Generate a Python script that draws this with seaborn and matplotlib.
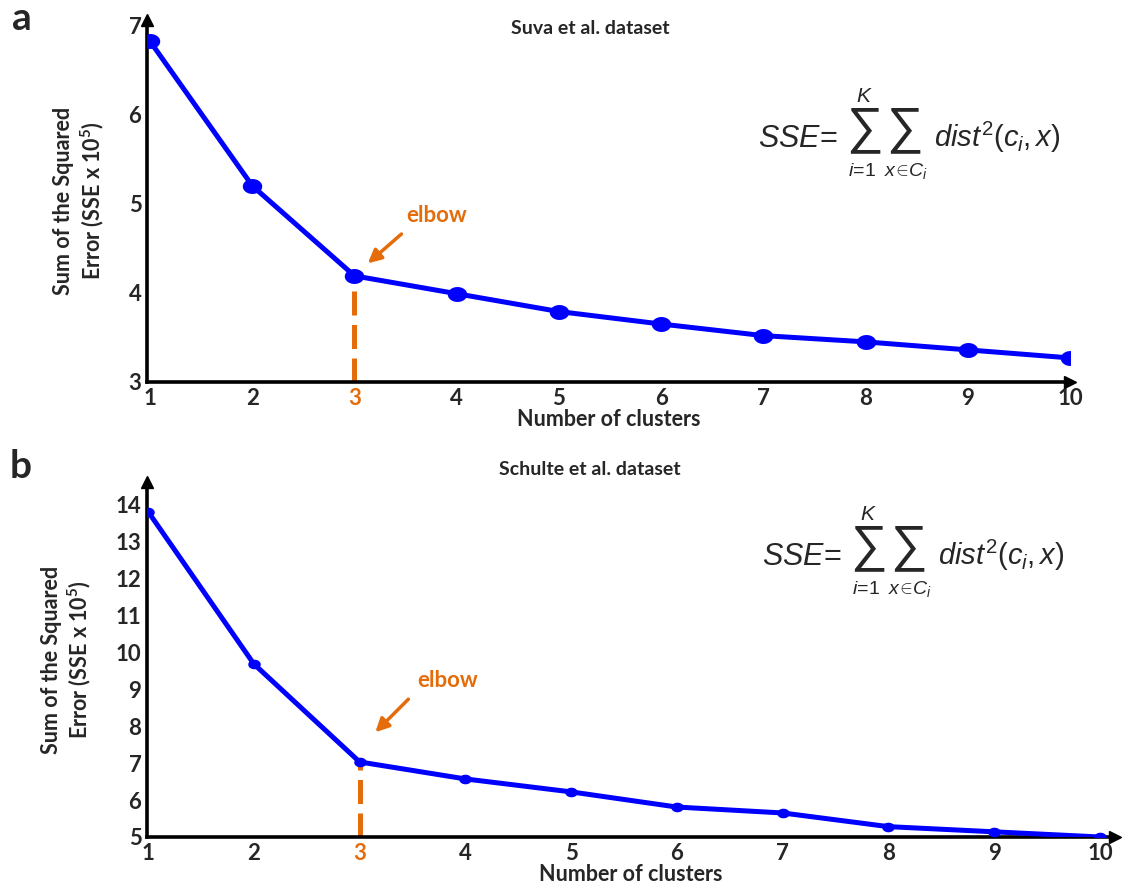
import numpy as np
import pandas as pd
import matplotlib
matplotlib.use('Agg')
import matplotlib.pyplot as plt
from matplotlib.path import Path
import seaborn as sns

# dados
clusters = [1, 2, 3, 4, 5, 6, 7, 8, 9, 10]
sse_suva = [6.82, 5.20, 4.19, 3.99, 3.79, 3.65, 3.52, 3.45, 3.36, 3.27]
sse_schulte = [13.80, 9.68, 7.03, 6.57, 6.22, 5.81, 5.65, 5.28, 5.14, 5.0]
elbow_k = 3
titulos = ['Suva et al. dataset', 'Schulte et al. dataset']
letras = ['a', 'b']

sns.set_style('white')
plt.rcParams['font.family'] = ['Lato', 'DejaVu Sans']
plt.rcParams['mathtext.fontset'] = 'custom'
plt.rcParams['mathtext.rm'] = 'Liberation Sans:normal'
plt.rcParams['mathtext.it'] = 'Liberation Sans:italic:normal'
plt.rcParams['mathtext.bf'] = 'Lato:bold'

AZUL = '#0000FF'
LARANJA = '#E46C0A'
W, H = 1124, 883

# marcador eliptico (mais largo que alto)
t = np.linspace(0, 2 * np.pi, 60)
elipse = Path(np.column_stack([1.3 * np.cos(t), np.sin(t)]))


def px(x, y):
    return x / W, 1 - y / H


def escreve_formula(fig, x0, y0):
    # x0, y0 = inicio da formula (linha de base), em pixels
    fig.text(*px(x0, y0), r'$SSE\!=$', fontsize=22, ha='left', va='baseline')
    for dx in (88, 128):
        fig.text(*px(x0 + dx, y0 - 5), '\u2211', fontsize=37, family='Liberation Sans',
                 ha='left', va='baseline')
    fig.text(*px(x0 + 106, y0 - 45), r'$K$', fontsize=15, ha='center', va='baseline')
    fig.text(*px(x0 + 104, y0 + 29), r'$i\!=\!1$', fontsize=14, ha='center', va='baseline')
    fig.text(*px(x0 + 148, y0 + 29), r'$x\!\in\! C_i$', fontsize=14, ha='center', va='baseline')
    fig.text(*px(x0 + 176, y0), r'$dist^2(c_i, x)$', fontsize=21, ha='left', va='baseline')


fig = plt.figure(figsize=(W / 100, H / 100), dpi=100)
ax_a = fig.add_axes([0.1308, 0.5674, 0.8211, 0.41])
ax_b = fig.add_axes([0.1308, 0.0521, 0.861, 0.402])

configs = [
    (ax_a, sse_suva, (0.97, 10.0), (3, 7.06), [3, 4, 5, 6, 7], 14, (3.8, 4.87), (3.48, 4.68), (3.11, 4.31)),
    (ax_b, sse_schulte, (0.99, 10.14), (5, 14.6), list(range(5, 15)), 9, (3.83, 9.24), (3.48, 8.78), (3.13, 7.78)),
]

for i, (ax, valores, xlim, ylim, yticks, ms, pos_txt, cauda, ponta) in enumerate(configs):
    df = pd.DataFrame({'k': clusters, 'sse': valores})
    sns.lineplot(data=df, x='k', y='sse', ax=ax, color=AZUL, linewidth=3.6,
                 marker=elipse, markersize=ms, markeredgewidth=0, zorder=3)
    ax.set_xlim(*xlim)
    ax.set_ylim(*ylim)
    ax.set_xticks(clusters)
    ax.set_yticks(yticks)
    ax.tick_params(axis='both', direction='in', length=5, width=0.8, color='#bbbbbb',
                   labelsize=16, pad=4)
    for lab in ax.get_xticklabels() + ax.get_yticklabels():
        lab.set_fontweight('bold')
    ax.get_xticklabels()[elbow_k - 1].set_color(LARANJA)
    for s in ['top', 'right']:
        ax.spines[s].set_visible(False)
    for s in ['left', 'bottom']:
        ax.spines[s].set_linewidth(2.6)
        ax.spines[s].set_color('black')
    ax.plot(1, 0, '>k', transform=ax.transAxes, clip_on=False, markersize=9, zorder=5)
    ax.plot(0, 1, '^k', transform=ax.transAxes, clip_on=False, markersize=9, zorder=5)

    # linha tracejada do cotovelo
    ax.plot([elbow_k, elbow_k], [ylim[0], valores[elbow_k - 1]], color=LARANJA,
            linewidth=3.6, linestyle=(0, (4.8, 1.9)), zorder=2)
    ax.annotate('', xy=ponta, xytext=cauda,
                arrowprops=dict(arrowstyle='-|>,head_length=0.8,head_width=0.4',
                                color=LARANJA, lw=2.5))
    ax.text(pos_txt[0], pos_txt[1], 'elbow', color=LARANJA, fontsize=16,
            fontweight='bold', ha='center', va='center')

    ax.set_xlabel('Number of clusters', fontsize=15.5, fontweight='bold', labelpad=0)
    ax.set_ylabel('Sum of the Squared\nError (SSE x 10$^{\\mathbf{5}}$)', fontsize=15.5,
                  fontweight='bold', labelpad=16)

fig.text(*px(590, 28), titulos[0], fontsize=14, fontweight='bold', ha='center', va='center')
fig.text(*px(590, 470), titulos[1], fontsize=14, fontweight='bold', ha='center', va='center')
fig.text(*px(12, 18), letras[0], fontsize=28, fontweight='bold', ha='left', va='center')
fig.text(*px(10, 466), letras[1], fontsize=28, fontweight='bold', ha='left', va='center')
escreve_formula(fig, 758, 147)
escreve_formula(fig, 762, 565)

fig.savefig('out.png', dpi=100)
